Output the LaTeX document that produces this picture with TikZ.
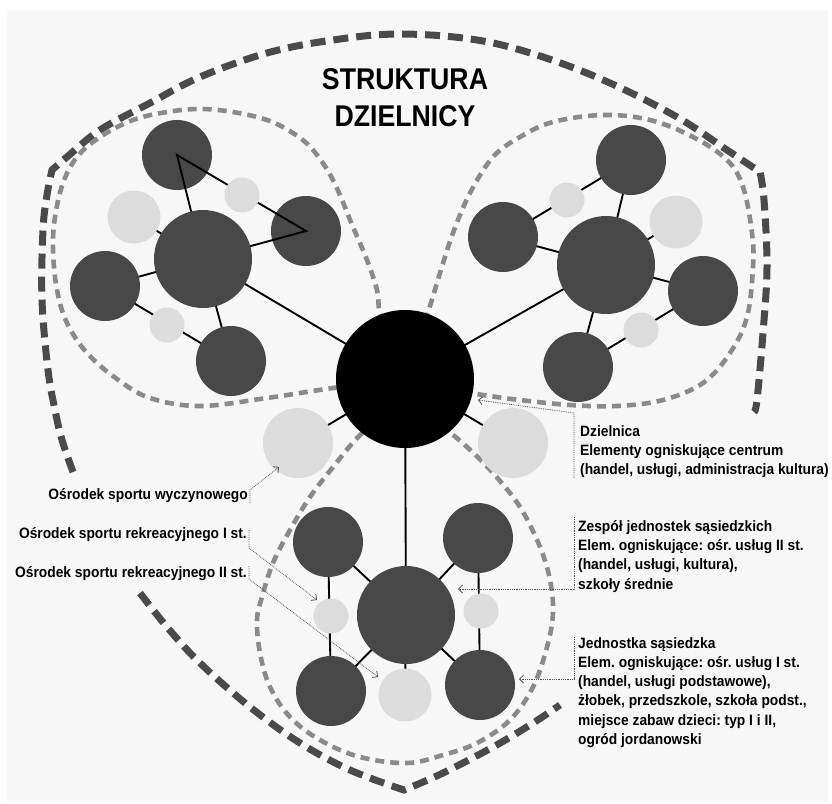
\documentclass[tikz,border=0pt]{standalone}
\usepackage{fontspec}
\newfontfamily\labfont{Liberation Sans}[FakeStretch=0.92]
\newfontfamily\titfont{Liberation Sans}[FakeStretch=0.89]
\usetikzlibrary{arrows.meta}
\frenchspacing
\definecolor{bgc}{HTML}{F7F7F7}
\definecolor{dkc}{HTML}{484848}
\definecolor{ltc}{HTML}{DCDCDC}
\definecolor{outc}{HTML}{4A4A4A}
\definecolor{inc}{HTML}{8A8A8A}
\definecolor{leadc}{HTML}{505050}
\begin{document}
\frenchspacing
\begin{tikzpicture}[x=1pt,y=-1pt,
  dk/.style={circle, fill=dkc, inner sep=0pt, minimum size=70pt},
  bigc/.style={circle, fill=dkc, inner sep=0pt, minimum size=98pt},
  lt/.style={circle, fill=ltc, inner sep=0pt, minimum size=35pt},
  ltb/.style={circle, fill=ltc, inner sep=0pt, minimum size=53pt},
  ltc/.style={circle, fill=ltc, inner sep=0pt, minimum size=70pt},
  conn/.style={black, line width=1.9pt},
  outerdash/.style={outc, line width=7pt, dash pattern=on 15pt off 8pt},
  innerdash/.style={inc, line width=4.6pt, dash pattern=on 9pt off 6pt},
  lead/.style={leadc, line width=0.8pt, densely dotted},
  arrowend/.style={-{Straight Barb[length=4pt,width=8pt]}},
  lab/.style={font=\labfont\bfseries\fontsize{15}{19.3}\selectfont\frenchspacing, inner sep=0pt, align=left, anchor=north west},
  side/.style={font=\labfont\bfseries\fontsize{15}{19.3}\selectfont\frenchspacing, inner sep=0pt, anchor=base east}
]
\useasboundingbox (0,0) rectangle (832,803);
\fill[white] (0,0) rectangle (832,803);
\fill[bgc] (7,10) rectangle (828,801);

% outer thick dashed boundary
\draw[outerdash] plot[smooth, tension=0.6] coordinates {(73,472) (62,440) (55,410) (48,370) (42,300) (43,230) (47,195) (52,170)}
  -- plot[smooth, tension=0.6] coordinates {(52,170) (67,157) (100,130) (150,103) (200,77) (267,53) (333,40) (400,34) (477,40) (543,57) (610,83) (677,117) (727,150) (760,172)}
  -- plot[smooth, tension=0.6] coordinates {(760,172) (764,200) (767,267) (763,333) (757,400) (754,412)};
\draw[outerdash] plot[smooth, tension=0.6] coordinates {(140,593) (167,627) (200,663) (250,707) (300,743) (350,770) (404,790)}
  -- plot[smooth, tension=0.6] coordinates {(404,790) (443,773) (493,747) (530,725) (560,705)};

% inner dashed lobes
\draw[innerdash] plot[smooth, tension=0.6] coordinates {(392,335) (380,313) (377,290) (367,260) (353,227) (333,180) (313,150) (293,133) (267,120) (233,112) (200,109) (167,112) (133,120) (100,137) (77,157) (63,183) (55,217) (53,250) (57,290) (67,323) (87,353) (117,379) (150,398) (200,406) (267,398) (333,388) (360,386)};
\draw[innerdash] plot[smooth, tension=0.6] coordinates {(418,335) (428,312) (440,273) (453,233) (470,193) (493,157) (520,137) (553,122) (603,115) (650,120) (693,137) (727,160) (743,187) (752,233) (753,267) (747,317) (730,353) (703,383) (663,400) (617,406) (570,405) (520,400) (483,395) (455,390)};
\draw[innerdash] plot[smooth, tension=0.6] coordinates {(375,425) (358,437) (333,467) (310,497) (290,530) (273,563) (262,597) (257,620) (260,653) (270,687) (290,717) (320,740) (360,757) (407,763) (443,755) (477,743) (510,720) (533,687) (547,647) (553,613) (550,580) (540,547) (520,507) (493,473) (467,447) (447,430) (435,420)};

% node positions
\coordinate (K) at (405,379);
\coordinate (A0p) at (203,259);
\coordinate (B0p) at (606,265);
\coordinate (C0p) at (406,615);
\path (177,155) coordinate (A1p) (306,231) coordinate (A2p) (105,286) coordinate (A3p) (231,361) coordinate (A4p)
      (242,195) coordinate (a1p) (134,217) coordinate (a2p) (167,325) coordinate (a3p);
\path (631,160) coordinate (B1p) (503,237) coordinate (B2p) (703,291) coordinate (B3p) (578,367) coordinate (B4p)
      (567,200) coordinate (b1p) (676,222) coordinate (b2p) (641,330) coordinate (b3p);
\path (328,542) coordinate (C1p) (478,538) coordinate (C2p) (331,691) coordinate (C3p) (480,685) coordinate (C4p)
      (331,616) coordinate (c1p) (481,611) coordinate (c2p) (405,695) coordinate (c3p)
      (298,443) coordinate (d1p) (513,443) coordinate (d2p);

% connector lines (under circles)
\draw[conn] (A0p) -- (A3p) (A3p) -- (A4p) (A0p) -- (A4p) (A0p) -- (a2p) (A0p) -- (K);
\draw[conn] (B0p) -- (B1p) (B1p) -- (B2p) (B0p) -- (B2p) (B0p) -- (b2p) (B0p) -- (B3p) (B3p) -- (B4p) (B0p) -- (B4p) (B0p) -- (K);
\draw[conn] (K) -- (C0p) (C0p) -- (C1p) (C0p) -- (C2p) (C0p) -- (C3p) (C0p) -- (C4p) (C1p) -- (C3p) (C2p) -- (C4p) (C0p) -- (c3p) (K) -- (d1p) (K) -- (d2p);

% dark satellite circles
\node[dk] (A1) at (A1p) {};
\node[dk] (A2) at (A2p) {};
\node[dk] (A3) at (A3p) {};
\node[dk] (A4) at (A4p) {};
\node[dk] (B1) at (B1p) {};
\node[dk] (B2) at (B2p) {};
\node[dk] (B3) at (B3p) {};
\node[dk] (B4) at (B4p) {};
\node[dk] (C1) at (C1p) {};
\node[dk] (C2) at (C2p) {};
\node[dk] (C3) at (C3p) {};
\node[dk] (C4) at (C4p) {};

% triangle drawn over two circles
\draw[conn, line join=miter] (A0p) -- (A1.center) -- (A2.center) -- (A0p);

% light circles
\node[lt] (a1) at (a1p) {};
\node[ltb] (a2) at (a2p) {};
\node[lt] (a3) at (a3p) {};
\node[lt] (b1) at (b1p) {};
\node[ltb] (b2) at (b2p) {};
\node[lt] (b3) at (b3p) {};
\node[lt] (c1) at (c1p) {};
\node[lt] (c2) at (c2p) {};
\node[ltb] (c3) at (c3p) {};
\node[ltc] (d1) at (d1p) {};
\node[ltc] (d2) at (d2p) {};

% big circles
\node[bigc] (A0) at (A0p) {};
\node[bigc] (B0) at (B0p) {};
\node[bigc] (C0) at (C0p) {};
\node[circle, fill=black, inner sep=0pt, minimum size=138pt] (K0) at (K) {};

% title
\node[font=\titfont\bfseries\fontsize{30}{37}\selectfont, inner sep=0pt, align=center, anchor=north] (title) at (405,68) {STRUKTURA\\DZIELNICY};

% right labels
\node[lab] (dz) at (580,425) {Dzielnica\\Elementy ogniskujące centrum\\(handel, usługi, administracja kultura)};
\node[lab] (zs) at (578,520) {Zespół jednostek sąsiedzkich\\Elem. ogniskujące: ośr. usług II st.\\(handel, usługi, kultura),\\szkoły średnie};
\node[lab] (js) at (578,637) {Jednostka sąsiedzka\\Elem. ogniskujące: ośr. usług I st.\\(handel, usługi podstawowe),\\żłobek, przedszkole, szkoła podst.,\\miejsce zabaw dzieci: typ I i II,\\ogród jordanowski};

% left labels
\node[side] (sw) at (248,499) {Ośrodek sportu wyczynowego};
\node[side] (s1) at (247,538) {Ośrodek sportu rekreacyjnego I st.};
\node[side] (s2) at (247,577) {Ośrodek sportu rekreacyjnego II st.};

% leader lines
\coordinate (dzA) at (574,478); \coordinate (dzB) at (574,413); \coordinate (dzT) at (478,400);
\coordinate (zsA) at (574,517); \coordinate (zsB) at (574,589); \coordinate (zsT) at (458,589);
\coordinate (jsA) at (574,637); \coordinate (jsB) at (574,679); \coordinate (jsT) at (519,679);
\coordinate (swA) at (250,503); \coordinate (swB) at (250,490); \coordinate (swT) at (279,467);
\coordinate (s1A) at (249,530); \coordinate (s1B) at (249,548); \coordinate (s1T) at (317,600);
\coordinate (s2A) at (249,566); \coordinate (s2B) at (249,579); \coordinate (s2T) at (378,677);
\draw[lead, arrowend] (dzA) -- (dzB) -- (dzT);
\draw[lead, arrowend] (zsA) -- (zsB) -- (zsT);
\draw[lead, arrowend] (jsA) -- (jsB) -- (jsT);
\draw[lead, arrowend] (swA) -- (swB) -- (swT);
\draw[lead, arrowend] (s1A) -- (s1B) -- (s1T);
\draw[lead, arrowend] (s2A) -- (s2B) -- (s2T);
\end{tikzpicture}
\end{document}
